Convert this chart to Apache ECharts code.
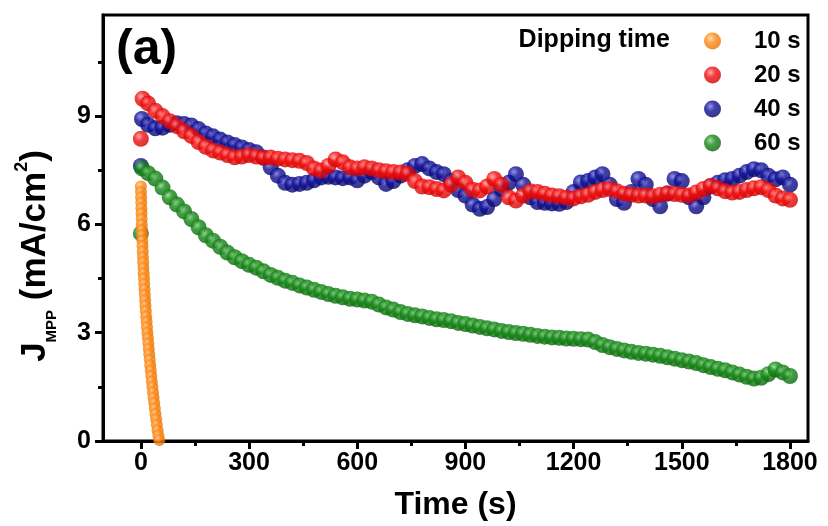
<!DOCTYPE html>
<html>
<head>
<meta charset="utf-8">
<script src="https://cdn.jsdelivr.net/npm/echarts@6/dist/echarts.min.js"></script>
<style>
html,body{margin:0;padding:0;background:#fff;}
#chart{width:828px;height:526px;}
</style>
</head>
<body>
<div id="chart"></div>
<script>
// ---- data ----
const seriesNames = ['10 s', '20 s', '40 s', '60 s'];
const xTickValues = [0, 300, 600, 900, 1200, 1500, 1800];
const xMinorValues = [150, 450, 750, 1050, 1350, 1650];
const yTickValues = [0, 3, 6, 9];
const yMinorValues = [1.5, 4.5, 7.5, 10.5];

const times = [20,40,60,80,100,120,140,160,180,200,
  220,240,260,280,300,320,340,360,380,400,
  420,440,460,480,500,520,540,560,580,600,
  620,640,660,680,700,720,740,760,780,800,
  820,840,860,880,900,920,940,960,980,1000,
  1020,1040,1060,1080,1100,1120,1140,1160,1180,1200,
  1220,1240,1260,1280,1300,1320,1340,1360,1380,1400,
  1420,1440,1460,1480,1500,1520,1540,1560,1580,1600,
  1620,1640,1660,1680,1700,1720,1740,1760,1780,1800];

// first points of each series (time, value)
const redHead = [[0, 8.37], [5, 9.48]];
const blueHead = [[0, 7.62], [3, 8.92]];
const greenHead = [[0, 5.75], [3, 7.55]];

const red20 = [9.35,9.15,9.00,8.86,8.72,8.58,8.45,8.28,8.15,8.05,
  7.99,7.92,7.86,7.88,7.92,7.88,7.84,7.85,7.82,7.80,
  7.78,7.76,7.70,7.55,7.49,7.62,7.80,7.72,7.58,7.55,
  7.58,7.55,7.50,7.47,7.45,7.44,7.40,7.20,7.05,7.03,
  6.98,6.94,7.10,7.30,7.15,6.96,6.94,7.05,7.26,7.10,
  6.75,6.66,6.80,6.92,6.90,6.85,6.80,6.78,6.74,6.72,
  6.78,6.82,6.90,6.95,6.98,6.92,6.85,6.82,6.80,6.80,
  6.78,6.82,6.86,6.84,6.82,6.80,6.88,6.98,7.07,7.00,
  6.92,6.88,6.90,6.95,7.00,7.03,6.95,6.80,6.72,6.68];

const blue40 = [8.76,8.66,8.68,8.76,8.80,8.78,8.74,8.64,8.52,8.44,
  8.35,8.27,8.20,8.13,8.06,8.00,7.85,7.58,7.35,7.15,
  7.10,7.12,7.15,7.22,7.30,7.32,7.30,7.28,7.30,7.22,
  7.35,7.45,7.30,7.12,7.20,7.35,7.50,7.62,7.67,7.55,
  7.45,7.39,7.20,6.95,6.80,6.55,6.43,6.48,6.70,6.98,
  7.15,7.39,7.10,6.75,6.62,6.60,6.58,6.57,6.62,6.90,
  7.16,7.20,7.30,7.39,7.10,6.70,6.60,6.90,7.26,7.10,
  6.70,6.50,6.85,7.26,7.20,6.75,6.50,6.75,7.05,7.15,
  7.22,7.26,7.35,7.45,7.53,7.50,7.35,7.25,7.30,7.10];

const green60 = [7.42,7.27,7.02,6.75,6.55,6.36,6.15,5.92,5.70,5.55,
  5.38,5.22,5.09,4.98,4.88,4.80,4.70,4.60,4.52,4.44,
  4.38,4.31,4.25,4.19,4.13,4.07,4.02,3.98,3.94,3.92,
  3.89,3.86,3.78,3.70,3.64,3.57,3.52,3.48,3.45,3.41,
  3.37,3.35,3.32,3.27,3.24,3.20,3.16,3.12,3.09,3.05,
  3.02,2.99,2.97,2.94,2.91,2.89,2.87,2.86,2.84,2.83,
  2.82,2.81,2.74,2.66,2.60,2.55,2.51,2.47,2.44,2.42,
  2.39,2.36,2.32,2.28,2.24,2.20,2.16,2.10,2.05,2.00,
  1.96,1.90,1.84,1.78,1.73,1.75,1.85,1.98,1.90,1.80];

const orangeTimes = [0,0.3,0.7,1.1,1.5,1.9,2.2,2.6,3.1,3.6,
  4.1,4.6,5.2,5.8,6.4,7.1,7.8,8.6,9.4,10.2,
  11,11.9,12.8,13.8,14.8,15.9,17,18.2,19.4,20.7,
  22,23.3,24.6,26,27.4,28.9,30.4,32,33.6,35.3,
  37,38.8,40.6,42.4,44.3,46.3,48.5,51];
const orange10 = [7.05,6.90,6.75,6.60,6.45,6.30,6.15,6.00,5.85,5.70,
  5.55,5.40,5.25,5.10,4.95,4.80,4.65,4.50,4.35,4.20,
  4.05,3.90,3.75,3.60,3.45,3.30,3.15,3.00,2.85,2.70,
  2.55,2.40,2.25,2.10,1.95,1.80,1.65,1.50,1.35,1.20,
  1.05,0.90,0.75,0.60,0.45,0.30,0.15,0.03];

// ---- build ----
function pairs(head, t, v) {
  const out = head.slice();
  for (let i = 0; i < t.length; i++) out.push([t[i], v[i]]);
  return out;
}
function sphere(base, light, dark) {
  return {
    type: 'radial', x: 0.38, y: 0.35, r: 0.7,
    colorStops: [
      { offset: 0, color: light },
      { offset: 0.4, color: base },
      { offset: 1, color: dark }
    ]
  };
}
const FONT = 'Liberation Sans, Arial, Helvetica, sans-serif';
const colOrange = sphere('#ff8c1a', '#ffd2a0', '#e07000');
const colRed = sphere('#f20d0d', '#ff9a9a', '#c80000');
const colBlue = sphere('#10109a', '#7a7ad8', '#060660');
const colGreen = sphere('#158a15', '#8fd08f', '#0b5e0b');

const chart = echarts.init(document.getElementById('chart'), null, { renderer: 'canvas' });

const plain = function (v) { return String(v); };

chart.setOption({
  animation: false,
  backgroundColor: '#fff',
  grid: { left: 103, right: 20, top: 15, bottom: 80, show: true, borderColor: '#000', borderWidth: 3, backgroundColor: 'transparent' },
  legend: {
    data: seriesNames,
    orient: 'vertical',
    left: 699, top: 22,
    itemWidth: 17, itemHeight: 17, itemGap: 6,
    icon: 'circle',
    textStyle: { fontSize: 24, fontWeight: 'bold', fontFamily: FONT, color: '#000', lineHeight: 28, padding: [0, 0, 0, 28] }
  },
  xAxis: [
    {
      type: 'value', min: -105, max: 1850, position: 'bottom',
      axisLine: { show: true, onZero: false, lineStyle: { color: '#000', width: 3 } },
      splitLine: { show: false },
      axisTick: { show: true, inside: false, length: 8, lineStyle: { color: '#000', width: 3 }, customValues: xTickValues },
      axisLabel: { show: true, customValues: xTickValues, formatter: plain, margin: 10, fontSize: 25, fontWeight: 'bold', fontFamily: FONT, color: '#000' },
      name: 'Time (s)', nameLocation: 'middle', nameGap: 48,
      nameTextStyle: { fontSize: 32, fontWeight: 'bold', fontFamily: FONT, color: '#000' }
    },
    {
      type: 'value', min: -105, max: 1850, position: 'bottom',
      axisLine: { show: false, onZero: false },
      splitLine: { show: false },
      axisTick: { show: true, inside: false, length: 5, lineStyle: { color: '#000', width: 3 }, customValues: xMinorValues },
      axisLabel: { show: false }
    }
  ],
  yAxis: [
    {
      type: 'value', min: 0, max: 11.8, position: 'left',
      axisLine: { show: true, onZero: false, lineStyle: { color: '#000', width: 3 } },
      splitLine: { show: false },
      axisTick: { show: true, inside: false, length: 8, lineStyle: { color: '#000', width: 3 }, customValues: yTickValues },
      axisLabel: { show: true, customValues: yTickValues, formatter: plain, margin: 12, fontSize: 25, fontWeight: 'bold', fontFamily: FONT, color: '#000' },
      name: '{j|J}{sub|MPP}{n| (mA/cm}{sup|2}{n|)}',
      nameLocation: 'middle', nameGap: 50, nameRotate: 90,
      nameTextStyle: {
        fontFamily: FONT, fontWeight: 'bold', color: '#000',
        padding: [0, 56, 0, 0],
        rich: {
          j: { fontSize: 35, fontWeight: 'bold', fontFamily: FONT, color: '#000', lineHeight: 40, verticalAlign: 'bottom' },
          n: { fontSize: 35, fontWeight: 'bold', fontFamily: FONT, color: '#000', lineHeight: 40, verticalAlign: 'bottom' },
          sub: { fontSize: 15, fontWeight: 'bold', fontFamily: FONT, color: '#000', lineHeight: 40, verticalAlign: 'bottom', padding: [0, 0, -6, 0] },
          sup: { fontSize: 18, fontWeight: 'bold', fontFamily: FONT, color: '#000', lineHeight: 40, verticalAlign: 'top' }
        }
      }
    },
    {
      type: 'value', min: 0, max: 11.8, position: 'left',
      axisLine: { show: false, onZero: false },
      splitLine: { show: false },
      axisTick: { show: true, inside: false, length: 5, lineStyle: { color: '#000', width: 3 }, customValues: yMinorValues },
      axisLabel: { show: false }
    }
  ],
  graphic: [
    { type: 'text', x: 116, y: 50, style: { text: '(a)', font: 'bold 50px ' + FONT, fill: '#000', textAlign: 'left', textVerticalAlign: 'middle', align: 'left', verticalAlign: 'middle' } },
    { type: 'text', x: 670, y: 40, style: { text: 'Dipping time', font: 'bold 25px ' + FONT, fill: '#000', textAlign: 'right', textVerticalAlign: 'middle', align: 'right', verticalAlign: 'middle' } }
  ],
  series: [
    { name: '40 s', type: 'scatter', symbol: 'circle', symbolSize: 16, data: pairs(blueHead, times, blue40), itemStyle: { color: colBlue } },
    { name: '60 s', type: 'scatter', symbol: 'circle', symbolSize: 16, data: pairs(greenHead, times, green60), itemStyle: { color: colGreen } },
    { name: '20 s', type: 'scatter', symbol: 'circle', symbolSize: 16, data: pairs(redHead, times, red20), itemStyle: { color: colRed } },
    { name: '10 s', type: 'scatter', symbol: 'circle', symbolSize: 12, data: pairs([], orangeTimes, orange10), itemStyle: { color: colOrange } }
  ]
});
</script>
</body>
</html>
